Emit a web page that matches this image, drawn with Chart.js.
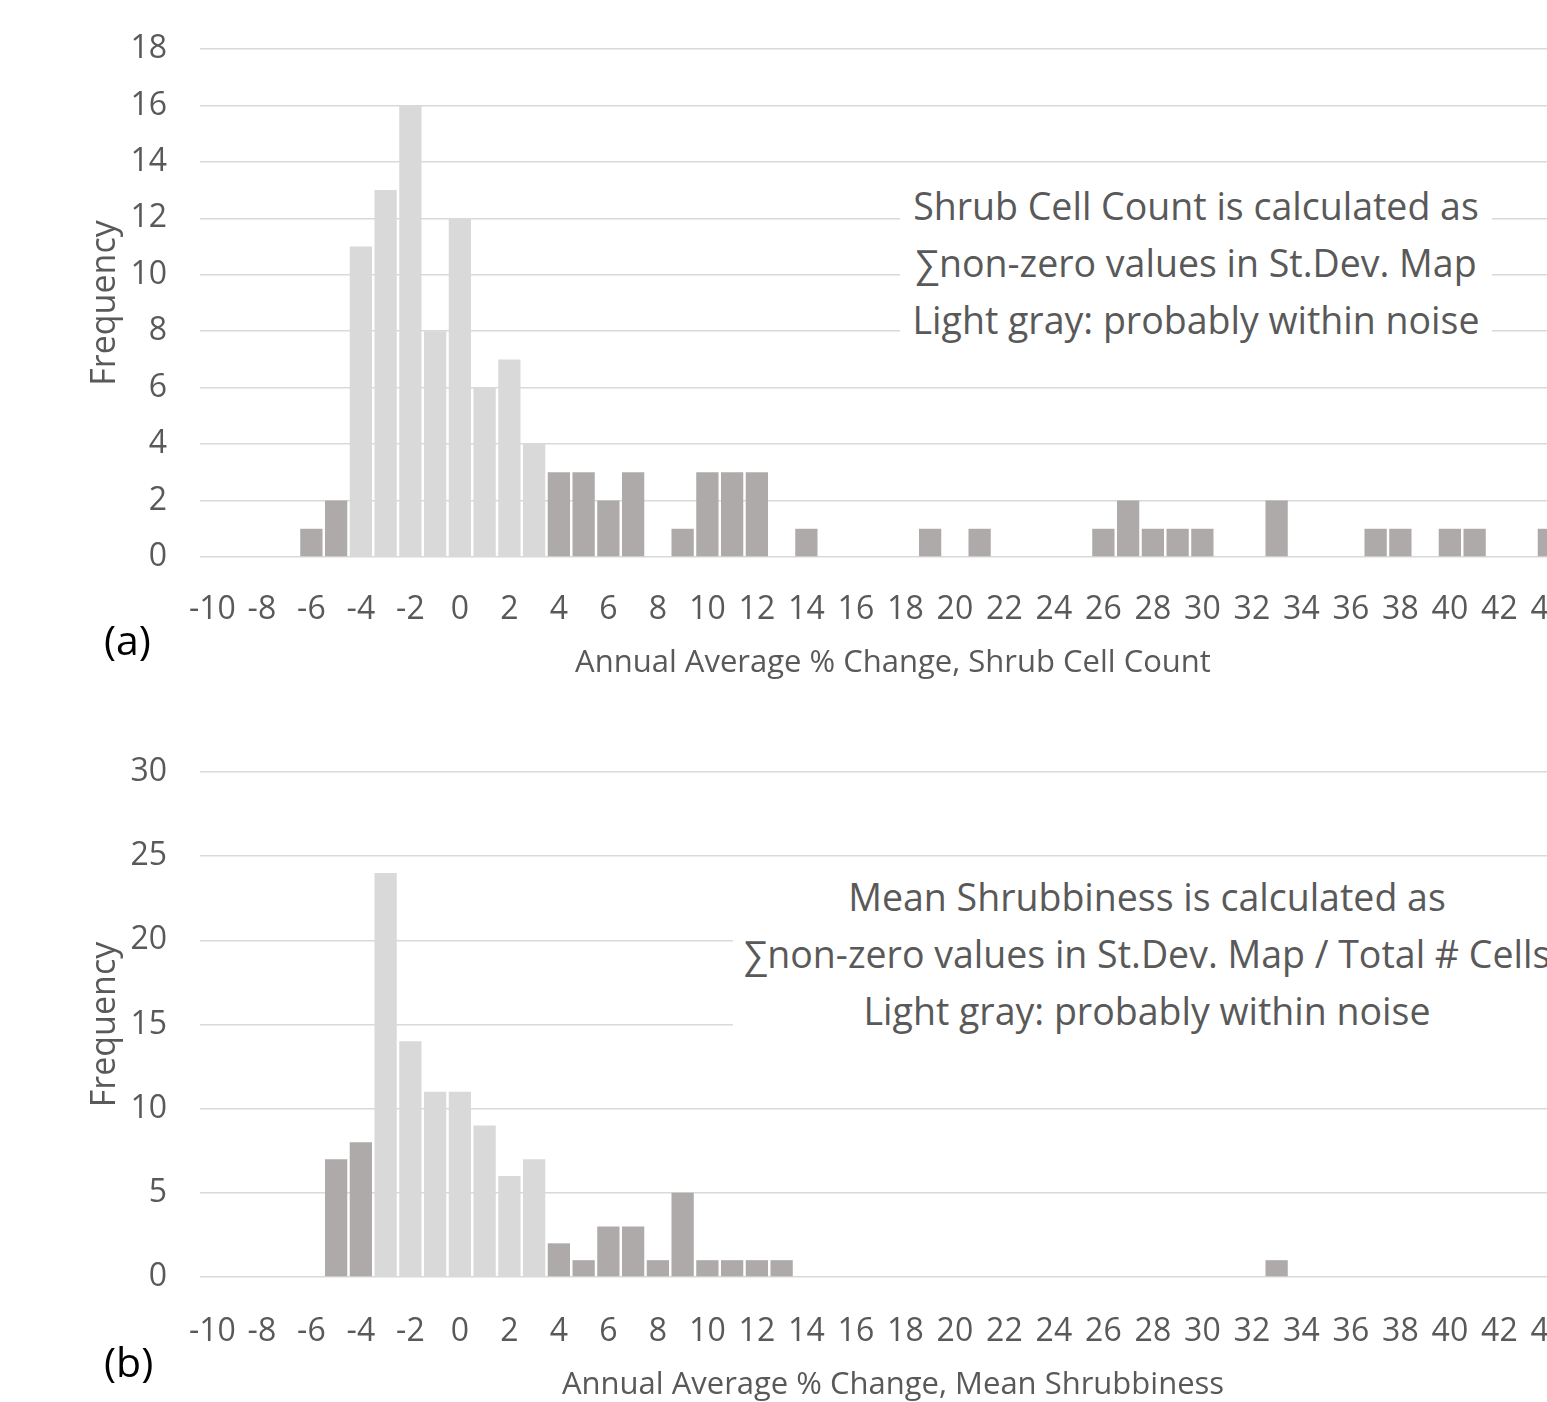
<!DOCTYPE html>
<html>
<head>
<meta charset="utf-8">
<script src="https://cdn.jsdelivr.net/npm/chart.js@4.4.1/dist/chart.umd.min.js"></script>
<style>
  html, body { margin: 0; padding: 0; background: #fff; }
  body { width: 1547px; height: 1402px; overflow: hidden; position: relative; font-family: "Open Sans", sans-serif; }
  canvas { position: absolute; left: 0; }
  #chartA { top: 0; }
  #chartB { top: 720px; }
  .note { position: absolute; background: #fff; color: #595959; font-size: 37.5px; line-height: 57px; text-align: center; white-space: nowrap; z-index: 2; }
  .panel { position: absolute; color: #000; font-size: 41px; line-height: 50px; z-index: 2; }
</style>
</head>
<body>
<canvas id="chartA" width="1606" height="700"></canvas>
<canvas id="chartB" width="1606" height="700"></canvas>

<div class="note" style="left:900px; top:177px; width:592px;">Shrub Cell Count is calculated as<br>∑non-zero values in St.Dev. Map<br>Light gray: probably within noise</div>
<div class="note" style="left:733px; top:868px; width:828px;">Mean Shrubbiness is calculated as<br>∑non-zero values in St.Dev. Map / Total # Cells<br>Light gray: probably within noise</div>
<div class="panel" style="left:104px; top:614px;">(a)</div>
<div class="panel" style="left:104px; top:1336px;">(b)</div>

<script>
// bins: annual average % change (bin centres)
const bins = [-10, -9, -8, -7, -6, -5, -4, -3, -2, -1, 0, 1, 2, 3, 4, 5, 6, 7, 8, 9,
              10, 11, 12, 13, 14, 15, 16, 17, 18, 19, 20, 21, 22, 23, 24, 25, 26, 27, 28, 29,
              30, 31, 32, 33, 34, 35, 36, 37, 38, 39, 40, 41, 42, 43, 44, 45];

// (a) shrub cell count
const countFreq = [0, 0, 0, 0, 1, 2, 11, 13, 16, 8, 12, 6, 7, 4, 3, 3, 2, 3, 0, 1,
                   3, 3, 3, 0, 1, 0, 0, 0, 0, 1, 0, 1, 0, 0, 0, 0, 1, 2, 1, 1,
                   1, 0, 0, 2, 0, 0, 0, 1, 1, 0, 1, 1, 0, 0, 1, 0];
const countNoise = [-4, 3];   // bins drawn light gray

// (b) mean shrubbiness
const meanFreq = [0, 0, 0, 0, 0, 7, 8, 24, 14, 11, 11, 9, 6, 7, 2, 1, 3, 3, 1, 5,
                  1, 1, 1, 1, 0, 0, 0, 0, 0, 0, 0, 0, 0, 0, 0, 0, 0, 0, 0, 0,
                  0, 0, 0, 1, 0, 0, 0, 0, 0, 0, 0, 0, 0, 0, 0, 0];
const meanNoise = [-3, 3];

const LIGHT = '#d9d9d9';
const DARK = '#aeaaaa';
const TEXT = '#595959';
const FONT = '"Open Sans", sans-serif';

function makeHist(id, freq, noise, yMax, yStep, xTitle, opt) {
    const colors = bins.map(b => (b >= noise[0] && b <= noise[1]) ? LIGHT : DARK);
    return new Chart(document.getElementById(id), {
        type: 'bar',
        data: {
            labels: bins.map(String),
            datasets: [{
                data: freq,
                backgroundColor: colors,
                borderWidth: 0,
                barPercentage: 0.9,
                categoryPercentage: 1
            }]
        },
        options: {
            responsive: false,
            animation: false,
            layout: { padding: { top: opt.top, left: 0, right: 20, bottom: 0 } },
            plugins: { legend: { display: false }, tooltip: { enabled: false } },
            scales: {
                x: {
                    grid: { display: false },
                    border: { display: false },
                    ticks: {
                        autoSkip: false,
                        maxRotation: 0,
                        minRotation: 0,
                        padding: opt.tickPad,
                        color: TEXT,
                        font: { family: FONT, size: 32 },
                        callback: function (v, i) {
                            return bins[i] % 2 === 0 ? String(bins[i]) : '';
                        }
                    },
                    title: {
                        display: true,
                        text: xTitle,
                        color: TEXT,
                        font: { family: FONT, size: 31 },
                        padding: { top: 4, bottom: opt.titlePad }
                    },
                    afterFit: s => { s.height = 143; s.paddingLeft = 0; s.paddingRight = 0; }
                },
                y: {
                    min: 0,
                    max: yMax,
                    grid: { color: LIGHT, lineWidth: 1.5, drawTicks: false },
                    border: { display: false },
                    ticks: {
                        stepSize: yStep,
                        padding: 33,
                        color: TEXT,
                        font: { family: FONT, size: 32 }
                    },
                    title: {
                        display: true,
                        text: 'Frequency',
                        color: TEXT,
                        font: { family: FONT, size: 34 },
                        padding: { top: 85, bottom: 0 }
                    },
                    afterFit: s => { s.width = 200; s.paddingTop = 0; s.paddingBottom = 0; }
                }
            }
        }
    });
}

makeHist('chartA', countFreq, countNoise, 18, 2,
         'Annual Average % Change, Shrub Cell Count', { top: 49, tickPad: 26, titlePad: 18 });
makeHist('chartB', meanFreq, meanNoise, 30, 5,
         'Annual Average % Change, Mean Shrubbiness', { top: 52, tickPad: 28, titlePad: 16 });
</script>
</body>
</html>
